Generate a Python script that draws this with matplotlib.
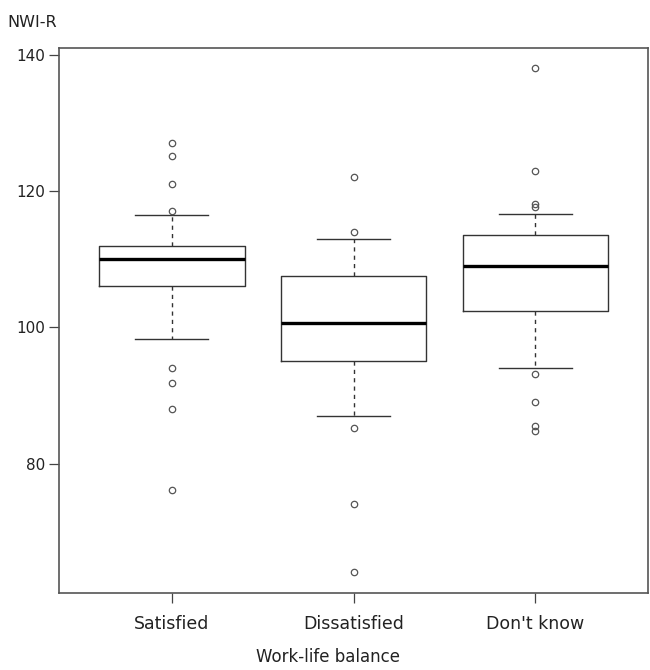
import matplotlib
matplotlib.use("Agg")
import matplotlib.pyplot as plt

# =========================
# data
# =========================
groups = ["Satisfied", "Dissatisfied", "Don't know"]
q1 = [106.1, 95.1, 102.4]
medians = [110.1, 100.6, 109.0]
q3 = [112.0, 107.5, 113.5]
whisker_lo = [98.3, 87.0, 94.1]
whisker_hi = [116.5, 113.0, 116.7]
outliers_satisfied = [127.1, 125.2, 121.1, 117.1, 94.1, 91.9, 88.1, 76.1]
outliers_dissatisfied = [122.0, 114.0, 85.2, 74.1, 64.1]
outliers_dontknow = [138.0, 123.0, 118.1, 117.6, 93.2, 89.1, 85.6, 84.8]
outliers = [outliers_satisfied, outliers_dissatisfied, outliers_dontknow]

yticks = [80, 100, 120, 140]


def build_stats():
    stats = []
    for i, g in enumerate(groups):
        stats.append({
            "label": g,
            "q1": q1[i],
            "med": medians[i],
            "q3": q3[i],
            "whislo": whisker_lo[i],
            "whishi": whisker_hi[i],
            "fliers": outliers[i],
        })
    return stats


fig = plt.figure(figsize=(6.5, 6.7), dpi=100)
ax = fig.add_axes([0.091, 0.115, 0.906, 0.813])

line_col = "#333333"
ax.bxp(
    build_stats(),
    positions=[1, 2, 3],
    widths=0.8,
    patch_artist=False,
    showfliers=True,
    boxprops=dict(color=line_col, linewidth=1.0),
    medianprops=dict(color="black", linewidth=2.4),
    whiskerprops=dict(color=line_col, linewidth=1.0, linestyle=(0, (3, 3))),
    capprops=dict(color=line_col, linewidth=1.0),
    capwidths=0.4,
    flierprops=dict(marker="o", markersize=4.6, markerfacecolor="none",
                    markeredgecolor="#555555", markeredgewidth=0.9,
                    linestyle="none"),
)

ax.set_xlim(0.38, 3.62)
ax.set_ylim(61.04, 140.96)
ax.set_yticks(yticks)
ax.set_xticks([1, 2, 3])
ax.set_xticklabels(groups, fontsize=12.5)
ax.tick_params(axis="y", labelsize=11, length=7, width=0.9, color="#444444",
               pad=3, labelcolor="#222222")
ax.tick_params(axis="x", length=7, width=0.9, color="#444444", pad=9,
               labelcolor="#222222")

for s in ax.spines.values():
    s.set_color("#555555")
    s.set_linewidth(1.2)

fig.text(0.012, 0.967, "NWI-R", fontsize=11.5, color="#222222",
         ha="left", va="center")
fig.text(0.505, 0.02, "Work-life balance", fontsize=12, color="#222222",
         ha="center", va="center")

fig.savefig("out.png", dpi=100)
